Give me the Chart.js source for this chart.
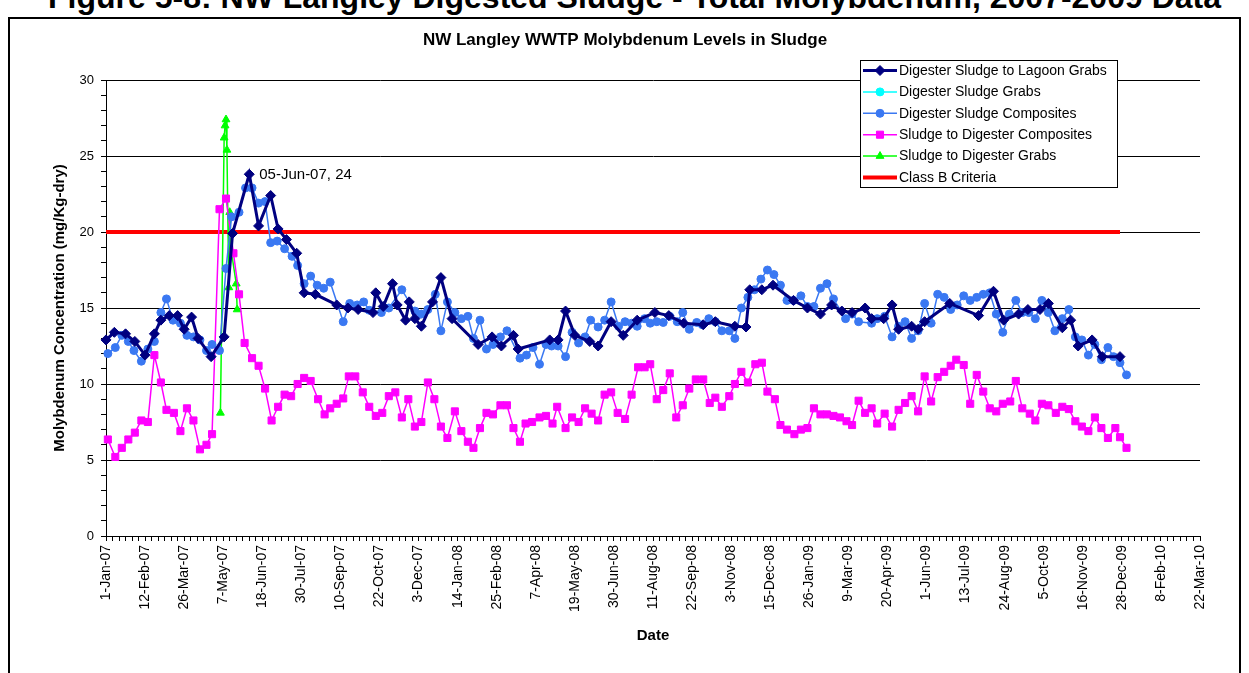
<!DOCTYPE html>
<html>
<head>
<meta charset="utf-8">
<title>NW Langley WWTP Molybdenum Levels in Sludge</title>
<script src="https://cdn.jsdelivr.net/npm/chart.js"></script>
<style>
  body { margin: 0; background: #fff; overflow: hidden; }
  #wrap { position: relative; width: 1249px; height: 673px; overflow: hidden; }
  #caption { position: absolute; left: 20px; right: 0; top: -19px; text-align: center; white-space: nowrap;
             font: bold 32px "Liberation Sans", Arial, sans-serif; line-height: 32px; }
  #frame { position: absolute; left: 8px; top: 17px; width: 1229px; height: 700px; border: 2px solid #000; background: #fff; }
  #chart { position: absolute; left: 0; top: 0; }
</style>
</head>
<body>
<div id="wrap">
  <div id="caption">Figure 5-8: NW Langley Digested Sludge - Total Molybdenum, 2007-2009 Data</div>
  <div id="frame"></div>
  <canvas id="chart" width="1249" height="673"></canvas>
</div>
<script>
// days counted from 1-Jan-07
const tickLabels = ['1-Jan-07', '12-Feb-07', '26-Mar-07', '7-May-07', '18-Jun-07', '30-Jul-07', '10-Sep-07',
  '22-Oct-07', '3-Dec-07', '14-Jan-08', '25-Feb-08', '7-Apr-08', '19-May-08', '30-Jun-08', '11-Aug-08',
  '22-Sep-08', '3-Nov-08', '15-Dec-08', '26-Jan-09', '9-Mar-09', '20-Apr-09', '1-Jun-09', '13-Jul-09',
  '24-Aug-09', '5-Oct-09', '16-Nov-09', '28-Dec-09', '8-Feb-10', '22-Mar-10'];

// Digester Sludge to Lagoon Grabs
const lagoonDays = [0, 9, 21, 31, 42, 52, 59, 68, 77, 84, 92, 99, 113, 127, 136, 154, 164, 177, 185, 194,
  205, 213, 225, 248, 260, 271, 287, 290, 298, 308, 313, 322, 326, 332, 339, 351, 360, 372, 400, 415,
  425, 438, 443, 477, 486, 494, 504, 520, 529, 543, 556, 571, 590, 605, 621, 642, 655, 676, 688, 692,
  705, 717, 739, 754, 768, 780, 791, 802, 816, 823, 836, 845, 852, 866, 873, 880, 907, 938, 954, 965,
  981, 991, 1004, 1013, 1028, 1037, 1045, 1060, 1071, 1090];
const lagoonMo = [12.9, 13.4, 13.3, 12.8, 11.9, 13.3, 14.2, 14.5, 14.5, 13.6, 14.4, 13.0, 11.8, 13.1, 19.9, 23.8, 20.4, 22.4, 20.2, 19.5,
  18.6, 16.0, 15.9, 15.2, 15.0, 14.9, 14.7, 16.0, 15.1, 16.6, 15.2, 14.2, 15.4, 14.3, 13.8, 15.4, 17.0, 14.3, 12.6, 13.1,
  12.5, 13.2, 12.3, 12.9, 12.9, 14.8, 13.2, 12.8, 12.5, 14.1, 13.2, 14.2, 14.7, 14.5, 14.0, 13.9, 14.1, 13.8, 13.75, 16.2,
  16.2, 16.5, 15.5, 15.0, 14.6, 15.2, 14.8, 14.7, 15.0, 14.3, 14.3, 15.2, 13.6, 13.8, 13.6, 14.1, 15.3, 14.5, 16.1, 14.2,
  14.6, 14.9, 14.9, 15.3, 13.7, 14.2, 12.5, 12.9, 11.8, 11.8];

// Digester Sludge Grabs (no points visible)
const grabDays = [];
const grabMo = [];

// Digester Sludge Composites
const compDays = [2, 10, 17, 24, 30, 38, 45, 52, 59, 65, 72, 80, 87, 94, 101, 108, 114, 122, 129, 135,
  143, 150, 157, 164, 171, 177, 184, 192, 200, 206, 213, 220, 227, 234, 241, 255, 262, 270, 277, 283,
  296, 304, 318, 332, 339, 346, 354, 360, 367, 375, 382, 389, 395, 402, 409, 416, 424, 431, 445, 452,
  459, 466, 473, 479, 486, 494, 501, 508, 515, 521, 529, 536, 543, 551, 558, 565, 571, 579, 585, 592,
  599, 606, 614, 620, 627, 635, 641, 648, 655, 662, 670, 676, 683, 690, 697, 704, 711, 718, 725, 732,
  739, 747, 754, 761, 768, 775, 782, 795, 802, 809, 823, 829, 837, 845, 852, 859, 866, 873, 880, 887,
  894, 901, 908, 915, 922, 929, 936, 943, 950, 957, 964, 971, 978, 985, 992, 999, 1006, 1013, 1020, 1028,
  1035, 1042, 1049, 1056, 1063, 1070, 1077, 1083, 1090, 1097];
const compMo = [12.0, 12.4, 13.2, 12.8, 12.2, 11.5, 12.3, 12.8, 14.7, 15.6, 14.2, 14.0, 13.2, 13.1, 12.9, 12.2, 12.6, 12.2, 17.6, 21.0,
  21.3, 22.9, 22.9, 21.9, 22.0, 19.3, 19.4, 18.9, 18.4, 17.8, 16.6, 17.1, 16.5, 16.3, 16.7, 14.1, 15.3, 15.2, 15.4, 14.85,
  14.7, 15.0, 16.2, 14.8, 14.6, 14.9, 15.9, 13.5, 15.4, 14.7, 14.3, 14.45, 13.0, 14.2, 12.3, 12.6, 13.1, 13.5, 11.7, 11.9,
  12.4, 11.3, 12.6, 12.5, 12.5, 11.8, 13.4, 12.7, 13.1, 14.2, 13.75, 14.2, 15.4, 13.8, 14.1, 14.0, 13.8, 14.3, 14.0, 14.1,
  14.05, 14.45, 14.1, 14.7, 13.6, 14.05, 13.9, 14.3, 14.1, 13.5, 13.5, 13.0, 15.0, 15.7, 16.2, 16.9, 17.5, 17.2, 16.5, 15.5,
  15.5, 15.8, 15.1, 15.1, 16.3, 16.6, 15.6, 14.3, 14.6, 14.1, 14.0, 14.3, 14.45, 13.1, 13.8, 14.1, 13.0, 13.5, 15.3, 14.0,
  15.9, 15.7, 14.9, 15.2, 15.8, 15.5, 15.7, 15.9, 16.0, 14.6, 13.4, 14.6, 15.5, 14.7, 14.7, 14.3, 15.5, 14.7, 13.5, 14.3,
  14.9, 13.1, 12.9, 11.9, 12.6, 11.6, 12.4, 11.8, 11.4, 10.6];

// Sludge to Digester Composites
const feedDays = [2, 10, 17, 24, 31, 38, 45, 52, 59, 65, 73, 80, 87, 94, 101, 108, 114, 122, 129, 137,
  143, 149, 157, 164, 171, 178, 185, 192, 199, 206, 213, 220, 228, 235, 241, 248, 255, 261, 268, 276,
  283, 290, 297, 304, 311, 318, 325, 332, 339, 346, 353, 360, 367, 375, 382, 389, 395, 402, 409, 416,
  424, 431, 438, 445, 451, 458, 466, 473, 480, 485, 494, 501, 508, 515, 522, 529, 536, 543, 550, 558,
  565, 572, 579, 585, 592, 599, 606, 613, 620, 627, 634, 642, 649, 655, 662, 670, 676, 683, 690, 698,
  705, 711, 719, 725, 732, 740, 747, 754, 761, 768, 775, 782, 789, 796, 802, 809, 816, 823, 829, 837,
  845, 852, 859, 866, 873, 880, 887, 894, 901, 908, 914, 922, 929, 936, 943, 950, 957, 964, 972, 978,
  985, 993, 999, 1006, 1013, 1021, 1028, 1035, 1042, 1049, 1056, 1063, 1070, 1077, 1085, 1090, 1097];
const feedMo = [6.35, 5.2, 5.8, 6.35, 6.8, 7.6, 7.5, 11.9, 10.1, 8.3, 8.1, 6.9, 8.4, 7.6, 5.7, 6.0, 6.7, 21.5, 22.2, 18.6,
  15.9, 12.7, 11.7, 11.2, 9.7, 7.6, 8.5, 9.3, 9.2, 10.0, 10.4, 10.2, 9.0, 8.0, 8.4, 8.7, 9.05, 10.5, 10.5, 9.45,
  8.5, 7.9, 8.1, 9.2, 9.45, 7.8, 9.0, 7.2, 7.5, 10.1, 9.0, 7.2, 6.45, 8.2, 6.9, 6.2, 5.8, 7.1, 8.1, 8.0,
  8.6, 8.6, 7.1, 6.2, 7.4, 7.5, 7.8, 7.9, 7.4, 8.5, 7.1, 7.8, 7.5, 8.4, 8.05, 7.6, 9.3, 9.45, 8.1, 7.7,
  9.3, 11.1, 11.1, 11.3, 9.0, 9.6, 10.7, 7.8, 8.6, 9.7, 10.3, 10.3, 8.75, 9.1, 8.5, 9.2, 10.0, 10.8, 10.1, 11.3,
  11.4, 9.5, 9.0, 7.3, 7.0, 6.7, 7.0, 7.1, 8.4, 8.0, 8.0, 7.9, 7.8, 7.55, 7.3, 8.9, 8.1, 8.4, 7.4, 8.05,
  7.2, 8.3, 8.75, 9.2, 8.2, 10.5, 8.85, 10.45, 10.8, 11.2, 11.6, 11.25, 8.7, 10.6, 9.5, 8.4, 8.2, 8.7, 8.85, 10.2,
  8.4, 8.05, 7.6, 8.7, 8.6, 8.1, 8.5, 8.35, 7.55, 7.2, 6.9, 7.8, 7.1, 6.45, 7.1, 6.5, 5.8];

// Sludge to Digester Grabs
const feedGrabDays = [123, 127, 128, 129, 130, 132, 133, 135, 140, 141];
const feedGrabMo = [8.1, 26.2, 27.0, 27.4, 25.4, 16.35, 21.3, 18.6, 16.6, 14.9];

// Class B Criteria
const limitDays = [0, 1090];
const limitMo = [20, 20];

const peakDay = 155;
const peakLabel = '05-Jun-07, 24';

function pts(days, vals) {
  return days.map((d, i) => ({ x: d, y: vals[i] }));
}

Chart.defaults.font.family = "'Liberation Sans', Arial, sans-serif";
Chart.defaults.color = '#000';

const boxLegend = {
  id: 'boxLegend',
  afterDraw(chart) {
    const ctx = chart.ctx;
    const x0 = 860, y0 = 60, w = 257, h = 127, rowH = 21.4;
    ctx.save();
    ctx.fillStyle = '#fff';
    ctx.fillRect(x0, y0, w, h);
    ctx.strokeStyle = '#000';
    ctx.lineWidth = 1;
    ctx.strokeRect(x0 + 0.5, y0 + 0.5, w, h);
    ctx.font = "14px 'Liberation Sans', Arial, sans-serif";
    ctx.textBaseline = 'middle';
    chart.data.datasets.forEach((ds, i) => {
      const cy = y0 + 10.5 + i * rowH;
      ctx.strokeStyle = ds.borderColor;
      ctx.lineWidth = ds.borderWidth;
      ctx.beginPath();
      ctx.moveTo(x0 + 3, cy);
      ctx.lineTo(x0 + 37, cy);
      ctx.stroke();
      if (ds.pointRadius > 0) {
        ctx.fillStyle = ds.backgroundColor;
        ctx.lineWidth = 1;
        Chart.helpers.drawPoint(ctx, { pointStyle: ds.pointStyle, radius: ds.pointRadius, borderWidth: 1, rotation: 0 }, x0 + 20, cy);
      }
      ctx.fillStyle = '#000';
      ctx.fillText(ds.label, x0 + 39, cy + 0.5);
    });
    ctx.restore();
  }
};

const peakNote = {
  id: 'peakNote',
  afterDatasetsDraw(chart) {
    const ctx = chart.ctx;
    const i = lagoonDays.indexOf(peakDay - 1);
    const px = chart.scales.x.getPixelForValue(lagoonDays[i]);
    const py = chart.scales.y.getPixelForValue(lagoonMo[i]);
    ctx.save();
    ctx.font = "15px 'Liberation Sans', Arial, sans-serif";
    ctx.fillStyle = '#000';
    ctx.textBaseline = 'middle';
    ctx.fillText(peakLabel, px + 10, py + 1);
    ctx.restore();
  }
};

new Chart(document.getElementById('chart'), {
  type: 'line',
  data: {
    datasets: [
      { label: 'Digester Sludge to Lagoon Grabs', data: pts(lagoonDays, lagoonMo), borderColor: '#000080', backgroundColor: '#000080',
        borderWidth: 3, pointStyle: 'rectRot', pointRadius: 5, pointBorderWidth: 1 },
      { label: 'Digester Sludge Grabs', data: pts(grabDays, grabMo), borderColor: '#00FFFF', backgroundColor: '#00FFFF',
        borderWidth: 1.5, pointStyle: 'circle', pointRadius: 4, pointBorderWidth: 1 },
      { label: 'Digester Sludge Composites', data: pts(compDays, compMo), borderColor: '#3A78F2', backgroundColor: '#3A78F2',
        borderWidth: 1.5, pointStyle: 'circle', pointRadius: 4, pointBorderWidth: 1 },
      { label: 'Sludge to Digester Composites', data: pts(feedDays, feedMo), borderColor: '#FF00FF', backgroundColor: '#FF00FF',
        borderWidth: 1.5, pointStyle: 'rect', pointRadius: 5, pointBorderWidth: 1 },
      { label: 'Sludge to Digester Grabs', data: pts(feedGrabDays, feedGrabMo), borderColor: '#00FF00', backgroundColor: '#00FF00',
        borderWidth: 1.5, pointStyle: 'triangle', pointRadius: 4.5, pointBorderWidth: 1 },
      { label: 'Class B Criteria', data: pts(limitDays, limitMo), borderColor: '#FF0000', backgroundColor: '#FF0000',
        borderWidth: 4, pointRadius: 0 }
    ]
  },
  options: {
    responsive: false,
    animation: false,
    layout: { padding: { left: 50, right: 49, top: 22, bottom: 0 } },
    elements: { line: { tension: 0 }, point: { hoverRadius: 5 } },
    datasets: { line: { clip: false } },
    plugins: {
      legend: { display: false },
      tooltip: { enabled: false },
      title: {
        display: true,
        text: 'NW Langley WWTP Molybdenum Levels in Sludge',
        font: { size: 17, weight: 'bold' },
        padding: { top: 8, bottom: 29.6 }
      }
    },
    scales: {
      x: {
        type: 'linear',
        min: 0,
        max: 1176,
        afterFit: s => { s.height = 137; },
        ticks: {
          stepSize: 7,
          maxTicksLimit: 200,
          autoSkip: false,
          minRotation: 90,
          maxRotation: 90,
          padding: 4,
          font: { size: 14 },
          callback: v => (v % 42 === 0 ? tickLabels[v / 42] : '')
        },
        grid: { drawOnChartArea: false, tickColor: '#000', tickLength: 5 },
        border: { color: '#000', width: 1 },
        title: { display: true, text: 'Date', font: { size: 15, weight: 'bold' }, padding: { top: 0, bottom: 28 } }
      },
      y: {
        min: 0,
        max: 30,
        afterFit: s => { s.width = 56; },
        ticks: {
          stepSize: 1,
          autoSkip: false,
          padding: 7,
          font: { size: 13 },
          callback: v => (v % 5 === 0 ? v : '')
        },
        grid: {
          color: c => (c.tick && c.tick.value % 5 === 0 ? '#000' : 'rgba(0,0,0,0)'),
          tickColor: '#000',
          tickLength: 5
        },
        border: { color: '#000', width: 1 },
        title: { display: true, text: 'Molybdenum Concentration (mg/Kg-dry)', font: { size: 15, weight: 'bold' }, padding: { top: 1, bottom: 0 } }
      }
    }
  },
  plugins: [boxLegend, peakNote]
});
</script>
</body>
</html>
